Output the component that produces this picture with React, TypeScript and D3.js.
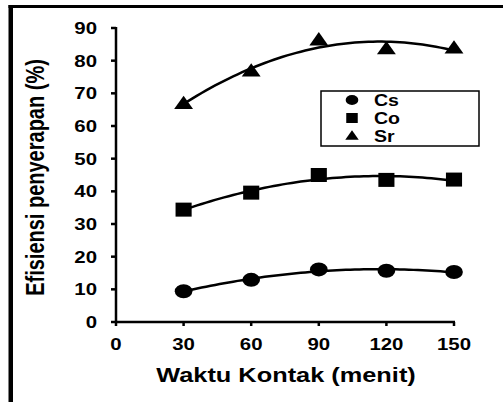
import React from "react";
import * as d3 from "d3";

const times = [30, 60, 90, 120, 150];
const csValues = [9.4, 12.9, 16.1, 15.7, 15.3];
const coValues = [34.4, 39.6, 45.0, 43.5, 43.6];
const srValues = [66.8, 76.8, 86.3, 83.6, 83.8];
const xTicks = [0, 30, 60, 90, 120, 150];
const yTicks = [0, 10, 20, 30, 40, 50, 60, 70, 80, 90];
const seriesNames = ["Cs", "Co", "Sr"];

const W = 503;
const H = 402;
const FONT = "'Liberation Sans', Arial, sans-serif";

function quadFit(xs: number[], ys: number[]) {
  // least squares y = a + b x + c x^2
  const n = xs.length;
  let s0 = n, s1 = 0, s2 = 0, s3 = 0, s4 = 0, t0 = 0, t1 = 0, t2 = 0;
  for (let i = 0; i < n; i++) {
    const x = xs[i], y = ys[i];
    s1 += x; s2 += x * x; s3 += x * x * x; s4 += x * x * x * x;
    t0 += y; t1 += x * y; t2 += x * x * y;
  }
  const M = [
    [s0, s1, s2, t0],
    [s1, s2, s3, t1],
    [s2, s3, s4, t2],
  ];
  for (let i = 0; i < 3; i++) {
    for (let k = i + 1; k < 3; k++) {
      const f = M[k][i] / M[i][i];
      for (let j = i; j < 4; j++) M[k][j] -= f * M[i][j];
    }
  }
  const c = M[2][3] / M[2][2];
  const b = (M[1][3] - M[1][2] * c) / M[1][1];
  const a = (M[0][3] - M[0][1] * b - M[0][2] * c) / M[0][0];
  return (x: number) => a + b * x + c * x * x;
}

function marker(kind: number, cx: number, cy: number, s: number) {
  if (kind === 0) {
    return <ellipse cx={cx} cy={cy} rx={s * 0.55 * 1.15} ry={s * 0.5} fill="#000" />;
  }
  if (kind === 1) {
    const w = s * 1.15, h = s;
    return <rect x={cx - w / 2} y={cy - h / 2} width={w} height={h} fill="#000" />;
  }
  const w = s * 1.35, h = s * 0.95;
  const p = `M${cx},${cy - h * 0.6}L${cx + w / 2},${cy + h * 0.4}L${cx - w / 2},${cy + h * 0.4}Z`;
  return <path d={p} fill="#000" />;
}

export default function App() {
  const x = d3.scaleLinear().domain([0, 150]).range([116, 454]);
  const y = d3.scaleLinear().domain([0, 90]).range([322, 28]);
  const series = [csValues, coValues, srValues];
  const line = d3
    .line<number[]>()
    .x((d) => x(d[0]))
    .y((d) => y(d[1]));
  const samples = d3.range(30, 150.01, 2);

  return (
    <svg
      width={W}
      height={H}
      style={{ position: "absolute", left: 0, top: 0, background: "#fff" }}
    >
      {/* outer frame */}
      <line x1={10.75} x2={10.75} y1={5} y2={H} stroke="#000" strokeWidth={4.5} />
      <line x1={8.5} x2={W} y1={6.5} y2={6.5} stroke="#000" strokeWidth={3} />

      {/* axes */}
      <line x1={x(0)} x2={x(0)} y1={y(90) - 1} y2={y(0) + 1} stroke="#000" strokeWidth={2.5} />
      <line x1={x(0) - 1} x2={x(150) + 1} y1={y(0)} y2={y(0)} stroke="#000" strokeWidth={2.5} />
      {yTicks.map((t) => (
        <g key={"y" + t}>
          <line x1={x(0) - 5} x2={x(0)} y1={y(t)} y2={y(t)} stroke="#000" strokeWidth={2.5} />
          <text
            transform={`translate(97,${y(t) + 6}) scale(1.2,1)`}
            textAnchor="end"
            fontFamily={FONT}
            fontWeight="bold"
            fontSize={17}
            fill="#000"
          >
            {t}
          </text>
        </g>
      ))}
      {xTicks.map((t) => (
        <g key={"x" + t}>
          <line x1={x(t)} x2={x(t)} y1={y(0)} y2={y(0) + 4} stroke="#000" strokeWidth={2.5} />
          <text
            transform={`translate(${x(t)},350) scale(1.2,1)`}
            textAnchor="middle"
            fontFamily={FONT}
            fontWeight="bold"
            fontSize={17}
            fill="#000"
          >
            {t}
          </text>
        </g>
      ))}

      {/* titles */}
      <text
        transform={`translate(286,382) scale(1.3,1)`}
        textAnchor="middle"
        fontFamily={FONT}
        fontWeight="bold"
        fontSize={19.5}
        fill="#000"
      >
        Waktu Kontak (menit)
      </text>
      <text
        transform={`translate(44,177.5) scale(1.3,1) rotate(-90)`}
        textAnchor="middle"
        fontFamily={FONT}
        fontWeight="bold"
        fontSize={20}
        fill="#000"
      >
        Efisiensi penyerapan (%)
      </text>

      {/* fitted curves */}
      {series.map((vals, i) => {
        const f = quadFit(times, vals);
        const pts = samples.map((t) => [t, f(t)]);
        return (
          <path key={"c" + i} d={line(pts) || ""} fill="none" stroke="#000" strokeWidth={2.5} />
        );
      })}

      {/* markers */}
      {series.map((vals, i) =>
        vals.map((v, j) => (
          <g key={`m${i}-${j}`}>{marker(i, x(times[j]), y(v), 14)}</g>
        ))
      )}

      {/* legend */}
      <rect x={321} y={91} width={158} height={55} fill="#fff" stroke="#000" strokeWidth={1.5} />
      {seriesNames.map((name, i) => {
        const cy = 100 + i * 18;
        return (
          <g key={"l" + name}>
            {marker(i, 352, cy, 10)}
            <text
              transform={`translate(374,${cy + 6}) scale(1.15,1)`}
              fontFamily={FONT}
              fontWeight="bold"
              fontSize={17}
              fill="#000"
            >
              {name}
            </text>
          </g>
        );
      })}
    </svg>
  );
}
